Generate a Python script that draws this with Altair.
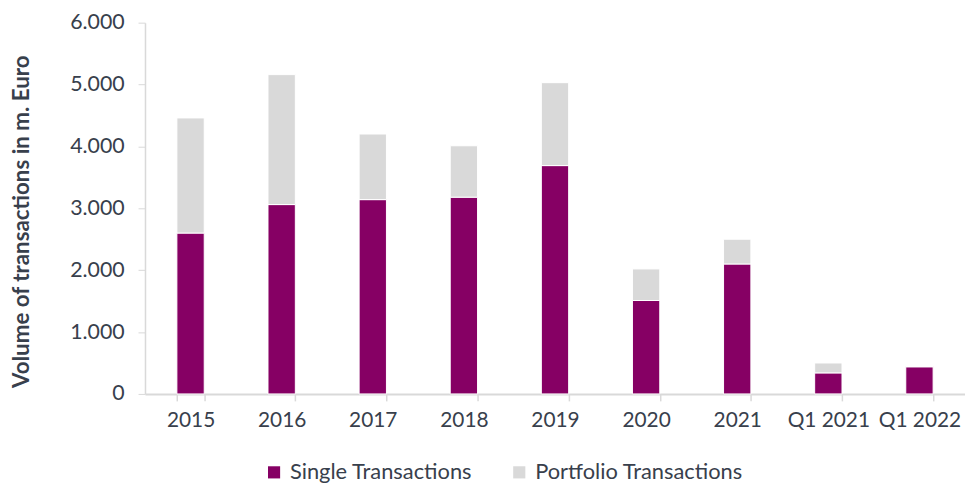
import altair as alt
import pandas as pd

categories = ["2015", "2016", "2017", "2018", "2019", "2020", "2021", "Q1 2021", "Q1 2022"]
single = [2600, 3060, 3140, 3180, 3690, 1510, 2100, 340, 440]
portfolio = [1860, 2100, 1060, 830, 1340, 510, 400, 160, 0]
series = ["Single Transactions", "Portfolio Transactions"]
colors = ["#860064", "#d9d9d9"]

rows = []
for c, s, p in zip(categories, single, portfolio):
    rows.append({"cat": c, "series": series[0], "value": s, "ord": 0})
    rows.append({"cat": c, "series": series[1], "value": p, "ord": 1})
df = pd.DataFrame(rows)

font = "Lato"
txt = "#38404c"
bars = alt.Chart(df).mark_bar(stroke="white", strokeWidth=1).encode(
    x=alt.X("cat:N", sort=categories, title=None,
            scale=alt.Scale(paddingInner=0.7, paddingOuter=0.35),
            axis=alt.Axis(labelAngle=0, labelFontSize=21, labelColor=txt, labelFont=font,
                          domainColor="#d9d9d9", domainWidth=2, tickColor="#d9d9d9", tickSize=7,
                          tickWidth=1.5, tickBand="extent", labelPadding=9)),
    y=alt.Y("value:Q", stack="zero", title="Volume of transactions in m. Euro",
            scale=alt.Scale(domain=[0, 6000], nice=False),
            axis=alt.Axis(values=[0, 1000, 2000, 3000, 4000, 5000, 6000], grid=False,
                          labelExpr="replace(format(datum.value, ','), ',', '.')",
                          labelFontSize=21.5, labelColor=txt, labelFont=font, labelPadding=14,
                          domainColor="#d9d9d9", domainWidth=1.5, tickColor="#d9d9d9", tickSize=7,
                          titleFont=font, titleFontSize=22.5, titleFontWeight="bold",
                          titleColor=txt, titlePadding=36, titleY=200)),
    color=alt.Color("series:N", sort=series,
                    scale=alt.Scale(domain=series, range=colors),
                    legend=alt.Legend(title=None, orient="none", direction="horizontal",
                                      legendX=119, legendY=442, symbolType="square", symbolSize=150,
                                      symbolStrokeWidth=0, labelFontSize=22, labelColor=txt,
                                      labelFont=font, columnPadding=36, labelOffset=5,
                                      labelLimit=400)),
    order=alt.Order("ord:Q"),
)

chart = bars.properties(
    width=826, height=374,
    autosize=alt.AutoSizeParams(type="none"),
    padding={"left": 138, "top": 13, "right": 0, "bottom": 92},
    background="white",
).configure_view(stroke=None)

chart.save("out.html", embed_options={"renderer": "svg", "actions": False})
